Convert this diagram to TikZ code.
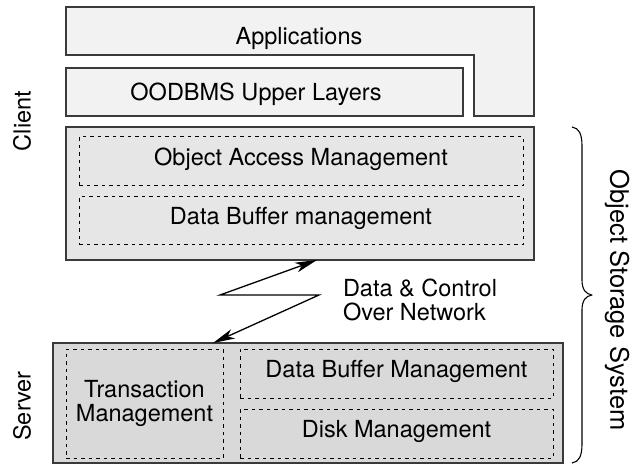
\documentclass[tikz,border=0pt]{standalone}
\usepackage{fontspec}
\setmainfont{TeX Gyre Heros}
\usetikzlibrary{arrows.meta}

\definecolor{appfill}{HTML}{F2F2F2}
\definecolor{clientfill}{HTML}{E6E6E6}
\definecolor{serverfill}{HTML}{D9D9D9}
\definecolor{edgegray}{HTML}{3A3A3A}

\begin{document}
\begin{tikzpicture}[x=1bp,y=-1bp,
  every node/.style={font=\fontsize{23.5bp}{24bp}\selectfont, inner sep=0pt, outer sep=0pt},
  layer/.style={draw=edgegray, line width=1.5bp, rectangle, anchor=north west},
  part/.style={draw=black, line width=1bp, dash pattern=on 3.5bp off 4bp, rectangle, anchor=north west},
  oneline/.style={text height=0.72em, text depth=0pt},
  link/.style={line width=1.3bp, {Stealth[length=22bp,width=10bp,inset=6bp]}-{Stealth[length=22bp,width=10bp,inset=6bp]}},
  bracepath/.style={line width=1.1bp, line join=round}
]
\useasboundingbox (0,0) rectangle (632,465);

% applications layer (L-shaped band wrapping the upper layers)
\draw[draw=edgegray, line width=1.5bp, fill=appfill]
  (66,7) -- (534,7) -- (534,116) -- (474,116) -- (474,55) -- (66,55) -- cycle;
\node[anchor=base] (apptext) at (299,45) {Applications};

% OODBMS upper layers
\node[layer, fill=appfill, minimum width=397bp, minimum height=48bp] (upper) at (66,68) {};
\node[anchor=base] (uppertext) at (256,101) {OODBMS Upper Layers};

% client side of the object storage system
\node[layer, fill=clientfill, minimum width=468bp, minimum height=133bp] (client) at (66,127) {};
\node[part, oneline, minimum width=444bp, minimum height=49bp] (oam) at (79,137) {Object Access Management};
\node[part, oneline, minimum width=444bp, minimum height=48bp] (cdbm) at (79,197) {Data Buffer management};

% server side
\node[layer, fill=serverfill, minimum width=510bp, minimum height=120bp] (server) at (53,343) {};
\node[part, align=center, font=\fontsize{23.5bp}{23.5bp}\selectfont,
      minimum width=157bp, minimum height=109bp] (tm) at (66,349) {Transaction\\Management};
\node[part, oneline, minimum width=313bp, minimum height=49bp] (sdbm) at (240,349) {Data Buffer Management};
\node[part, oneline, minimum width=313bp, minimum height=49bp] (disk) at (240,409) {Disk Management};

% side labels
\node[rotate=90] (clientlabel) at (22,121) {Client};
\node[rotate=90] (serverlabel) at (22,406) {Server};
\node[rotate=-90, font=\fontsize{25.5bp}{26bp}\selectfont] (osslabel) at (617,300) {Object Storage System};

% network link between client and server
\coordinate (up) at (317,260);
\coordinate (zl) at (220,295);
\coordinate (zr) at (319,295);
\coordinate (down) at (213,343);
\draw[link] (up) -- (zl) -- (zr) -- (down);
\node[align=left, anchor=north west, font=\fontsize{23.5bp}{24bp}\selectfont] (nettext) at (343,279) {Data \& Control\\Over Network};

% brace grouping client and server
\coordinate (bt) at (572,127);
\coordinate (bm) at (592,295);
\coordinate (bb) at (572,463);
\draw[bracepath] (bt) .. controls (579,128) and (582,134) .. (582,146)
  -- (582,280) .. controls (582,290) and (586,294) .. (bm)
  .. controls (586,296) and (582,300) .. (582,310)
  -- (582,444) .. controls (582,456) and (579,462) .. (bb);
\end{tikzpicture}
\end{document}
